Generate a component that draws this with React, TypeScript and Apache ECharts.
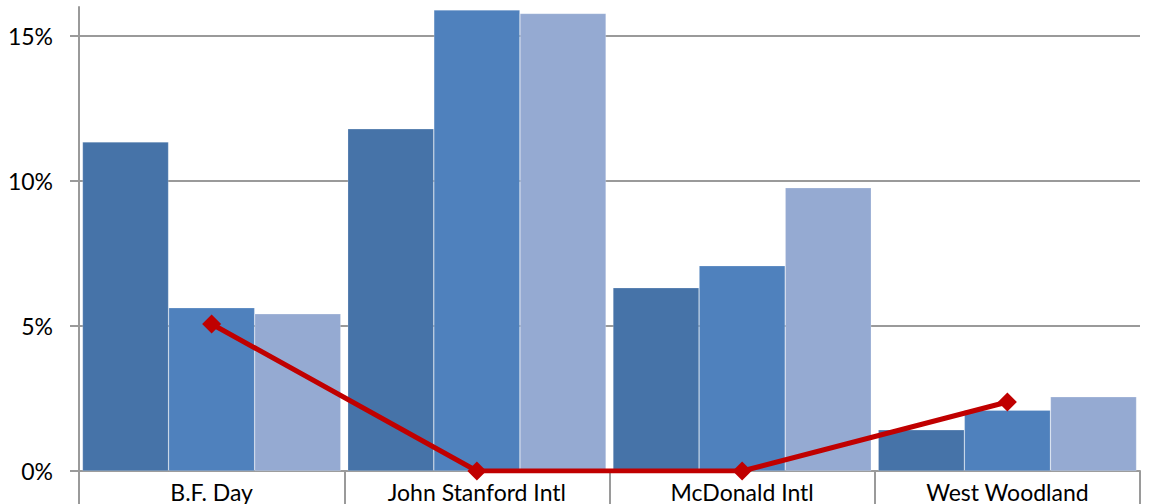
import React, { useEffect, useRef } from "react";
import * as echarts from "echarts";

const categories = ["B.F. Day", "John Stanford Intl", "McDonald Intl", "West Woodland"];
const seriesA = [11.35, 11.8, 6.32, 1.42];
const seriesB = [5.63, 15.9, 7.08, 2.1];
const seriesC = [5.42, 15.78, 9.77, 2.56];
const lineValues = [5.07, 0, 0, 2.38];
const yTicks = [0, 5, 10, 15];

const FONT = "Lato, 'Open Sans', sans-serif";

export default function App() {
  const ref = useRef<HTMLDivElement>(null);
  useEffect(() => {
    if (!ref.current) return;
    const chart = echarts.init(ref.current, null, { renderer: "svg" });
    const barBase = {
      type: "bar",
      barGap: "0%",
      barCategoryGap: "2.6%",
      itemStyle: { borderColor: "rgba(255,255,255,0.35)", borderWidth: 0.6 },
    };
    chart.setOption({
      animation: false,
      backgroundColor: "#ffffff",
      grid: { left: 79, right: 11, top: 7, bottom: 33, containLabel: false },
      xAxis: {
        type: "category",
        data: categories,
        axisLine: { show: true, lineStyle: { color: "#9a9a9a", width: 2 } },
        axisTick: { show: true, length: 40, lineStyle: { color: "#9a9a9a", width: 2 } },
        axisLabel: { color: "#000", fontSize: 23, fontFamily: FONT, margin: 9 },
      },
      yAxis: {
        type: "value",
        min: 0,
        max: 16,
        interval: 5,
        axisLine: { show: true, lineStyle: { color: "#9a9a9a", width: 2 } },
        axisTick: {
          show: true,
          length: 9,
          customValues: yTicks,
          lineStyle: { color: "#9a9a9a", width: 2 },
        },
        axisLabel: {
          customValues: yTicks,
          color: "#000",
          fontSize: 23,
          fontFamily: FONT,
          margin: 26,
          formatter: (v: number) => `${v}%`,
        },
        splitLine: {
          show: true,
          lineStyle: {
            color: ["#9a9a9a", "#9a9a9a", "#9a9a9a", "#9a9a9a", "rgba(0,0,0,0)"],
            width: 2,
          },
        },
      },
      series: [
        { ...barBase, name: "A", data: seriesA, itemStyle: { ...barBase.itemStyle, color: "#4673A8" } },
        { ...barBase, name: "B", data: seriesB, itemStyle: { ...barBase.itemStyle, color: "#4F81BD" } },
        { ...barBase, name: "C", data: seriesC, itemStyle: { ...barBase.itemStyle, color: "#95AAD2" } },
        {
          type: "line",
          name: "Line",
          data: lineValues,
          symbol: "diamond",
          symbolSize: 19,
          lineStyle: { color: "#C00000", width: 5 },
          itemStyle: { color: "#C00000" },
          z: 5,
        },
      ],
    });
    return () => chart.dispose();
  }, []);
  return (
    <div
      ref={ref}
      style={{ position: "fixed", left: 0, top: 0, width: 1151, height: 504 }}
    />
  );
}
